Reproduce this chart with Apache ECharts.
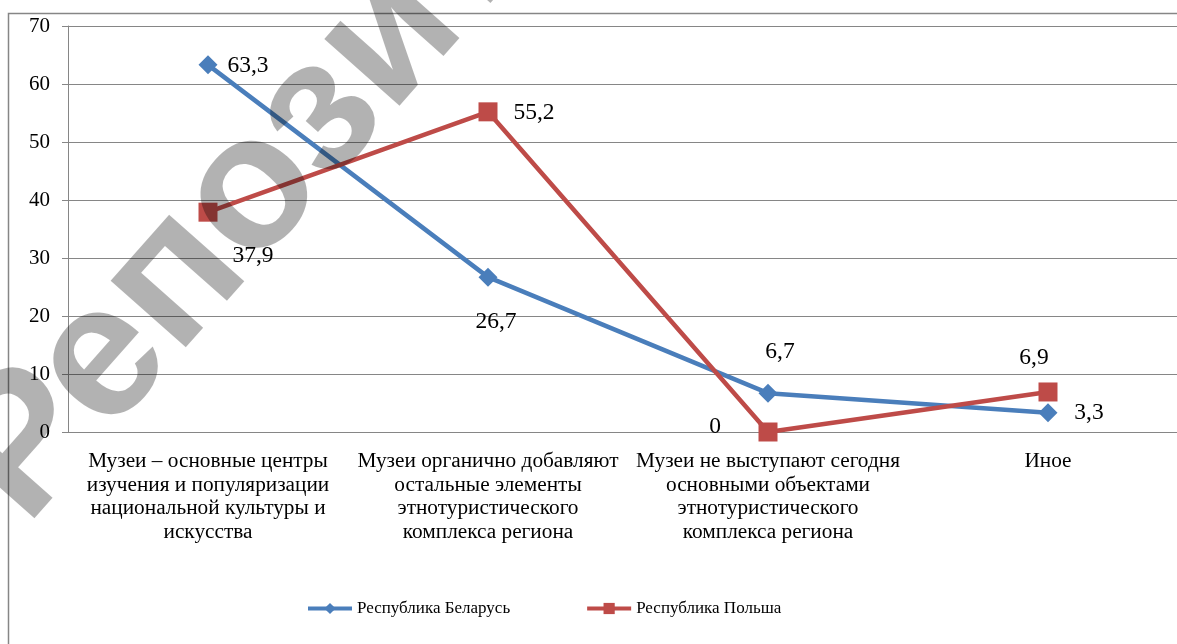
<!DOCTYPE html>
<html>
<head>
<meta charset="utf-8">
<script src="https://cdn.jsdelivr.net/npm/echarts@6/dist/echarts.min.js"></script>
<style>
  html, body { margin: 0; padding: 0; background: #fff; overflow: hidden; }
  #chart { width: 1260px; height: 700px; }
</style>
</head>
<body>
<div id="chart"></div>
<script>
// categories (line breaks as in the source picture)
const categories = [
  'Музеи – основные центры\nизучения и популяризации\nнациональной культуры и\nискусства',
  'Музеи органично добавляют\nостальные элементы\nэтнотуристического\nкомплекса региона',
  'Музеи не выступают сегодня\nосновными объектами\nэтнотуристического\nкомплекса региона',
  'Иное'
]
const belarus = [63.3, 26.7, 6.7, 3.3]
const poland = [37.9, 55.2, 0, 6.9]
const seriesNames = ['Республика Беларусь', 'Республика Польша']

const serif = "'Liberation Serif', 'Times New Roman', serif"
const gray = '#868686'

// label offsets from the marker centre, per point
const belarusLabelOffsets = [[40, 1], [8, 45], [12, -41], [41, 0]]
const polandLabelOffsets = [[45, 44], [46, 1], [-53, -5], [-14, -34]]

function withLabels(values, offsets) {
  return values.map((v, i) => ({ value: v, label: { offset: offsets[i] } }))
}

const fmt = p => String(p.value).replace('.', ',')

const chart = echarts.init(document.getElementById('chart'))

const option = {
  animation: false,
  textStyle: { fontFamily: serif },
  grid: { left: 68, top: 26, width: 1120, height: 406 },
  legend: {
    data: seriesNames,
    left: 306,
    top: 600,
    padding: 0,
    itemWidth: 44,
    itemHeight: 14,
    itemGap: 75,
    lineStyle: { width: 4 },
    textStyle: { fontFamily: serif, fontSize: 17, color: '#000' }
  },
  xAxis: {
    type: 'category',
    data: categories,
    axisLine: { lineStyle: { color: gray, width: 1 } },
    axisTick: { length: 5, lineStyle: { color: gray } },
    axisLabel: {
      interval: 0,
      margin: 18,
      fontFamily: serif,
      fontSize: 21.3,
      lineHeight: 23.5,
      color: '#000',
      align: 'center'
    }
  },
  yAxis: {
    type: 'value',
    min: 0,
    max: 70,
    interval: 10,
    axisLine: { show: true, lineStyle: { color: gray } },
    axisTick: { show: true, length: 6, lineStyle: { color: gray } },
    splitLine: { lineStyle: { color: gray, width: 1 } },
    axisLabel: { margin: 18, fontFamily: serif, fontSize: 21, color: '#000' }
  },
  series: [
    {
      name: seriesNames[0],
      type: 'line',
      data: withLabels(belarus, belarusLabelOffsets),
      symbol: 'diamond',
      symbolSize: 19,
      lineStyle: { color: '#4a7ebb', width: 4.5 },
      itemStyle: { color: '#4a7ebb' },
      label: {
        show: true,
        position: 'inside',
        formatter: fmt,
        fontFamily: serif,
        fontSize: 23.5,
        color: '#000'
      }
    },
    {
      name: seriesNames[1],
      type: 'line',
      data: withLabels(poland, polandLabelOffsets),
      symbol: 'rect',
      symbolSize: 19,
      lineStyle: { color: '#be4b48', width: 4.5 },
      itemStyle: { color: '#be4b48' },
      label: {
        show: true,
        position: 'inside',
        formatter: fmt,
        fontFamily: serif,
        fontSize: 23.5,
        color: '#000'
      }
    }
  ],
  graphic: [
    {
      type: 'rect',
      z: 0,
      shape: { x: 8.5, y: 13.5, width: 1240, height: 680 },
      style: { fill: 'none', stroke: gray, lineWidth: 1.5 }
    },
    {
      // repository watermark
      type: 'text',
      z: 100,
      x: 58,
      y: 556,
      rotation: 48.5 * Math.PI / 180,
      style: {
        text: 'Репозиторий БГУ',
        font: "bold 190px 'Liberation Sans', Arial, sans-serif",
        fill: 'rgba(0,0,0,0.3)',
        textAlign: 'left',
        textVerticalAlign: 'bottom'
      }
    }
  ]
}

chart.setOption(option)
</script>
</body>
</html>
